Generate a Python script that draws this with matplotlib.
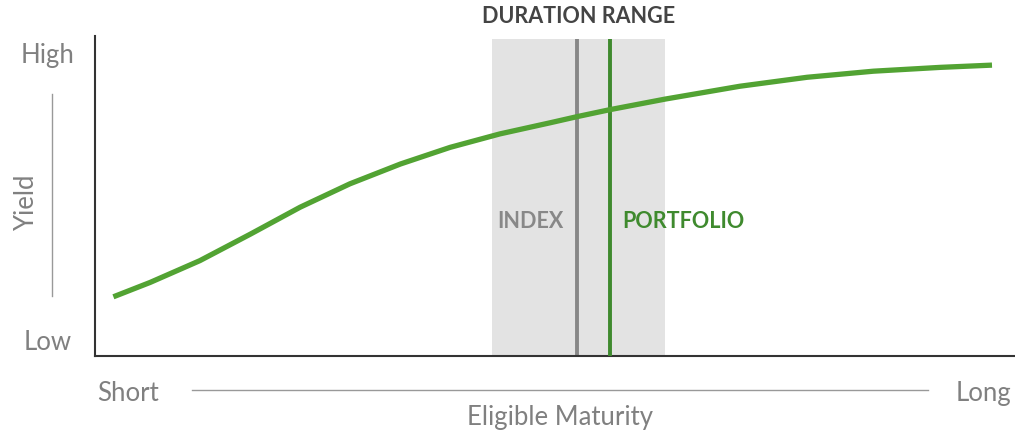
import matplotlib
matplotlib.use('Agg')
import matplotlib.pyplot as plt

plt.rcParams['font.family'] = ['Lato', 'DejaVu Sans']

# yield curve (maturity 0-100, yield 0-100)
maturity = [2.0, 6.0, 11.4, 16.9, 22.3, 27.7, 33.2, 38.6, 44.0, 49.5, 52.4,
            56.0, 62.0, 70.1, 77.4, 84.6, 91.9, 97.5]
yields = [18.5, 23.0, 29.8, 38.1, 46.5, 53.8, 60.0, 65.2, 69.4, 72.9, 74.8,
          77.0, 80.3, 84.3, 87.1, 89.0, 90.2, 90.9]

duration_range = [43.2, 62.0]
index_duration = 52.4
portfolio_duration = 56.0
band_top = 99

y_labels = ["Low", "High"]
x_labels = ["Short", "Long"]

W, H = 1015, 431
fig = plt.figure(figsize=(W / 100, H / 100), dpi=100)
ax = fig.add_axes([95 / W, (H - 357) / H, 920 / W, 320 / H])
ax.set_xlim(0, 100)
ax.set_ylim(0, 100)

ax.axvspan(duration_range[0], duration_range[1], ymax=band_top / 100,
           color='#e3e3e3', lw=0, zorder=0)
ax.plot([index_duration, index_duration], [0, band_top], color='#878787',
        lw=2.8, zorder=2, solid_capstyle='butt')
ax.plot([portfolio_duration, portfolio_duration], [0, band_top],
        color='#3f8a2e', lw=2.8, zorder=3, solid_capstyle='butt')
ax.plot(maturity, yields, color='#52a333', lw=3.8, zorder=4,
        solid_capstyle='butt', solid_joinstyle='round')

ax.text(sum(duration_range) / 2, 106.5, "DURATION RANGE", ha='center',
        va='center', fontsize=15.5, fontweight='bold', color='#444444')
ax.text(index_duration - 1.5, 42.3, "INDEX", ha='right', va='center',
        fontsize=15.5, fontweight='bold', color='#888888')
ax.text(portfolio_duration + 1.3, 42.3, "PORTFOLIO", ha='left', va='center',
        fontsize=15.5, fontweight='bold', color='#3f8a2e')

for s in ['top', 'right']:
    ax.spines[s].set_visible(False)
for s in ['left', 'bottom']:
    ax.spines[s].set_color('#333333')
    ax.spines[s].set_linewidth(1.5)
ax.spines['bottom'].set_bounds(0, 100)
ax.set_xticks([])
ax.set_yticks([])

gray = '#808080'
fs = 18.5
# y axis annotations in figure pixels
fig.text(48 / W, 1 - 56 / H, y_labels[1], ha='center', va='center',
         fontsize=fs, color=gray)
fig.text(48 / W, 1 - 343 / H, y_labels[0], ha='center', va='center',
         fontsize=fs, color=gray)
fig.text(27 / W, 1 - 203 / H, "Yield", ha='center', va='center',
         fontsize=fs, color=gray, rotation=90)
fig.add_artist(plt.Line2D([52 / W, 52 / W], [1 - 95 / H, 1 - 297 / H],
                          color='#999999', lw=1))

# x axis annotations
fig.text(128 / W, 1 - 394 / H, x_labels[0], ha='center', va='center',
         fontsize=fs, color=gray)
fig.text(984 / W, 1 - 394 / H, x_labels[1], ha='center', va='center',
         fontsize=fs, color=gray)
fig.text(560 / W, 1 - 418 / H, "Eligible Maturity", ha='center',
         va='center', fontsize=fs, color=gray)
fig.add_artist(plt.Line2D([192 / W, 928 / W], [1 - 391 / H, 1 - 391 / H],
                          color='#999999', lw=1))

fig.savefig('out.png', dpi=100)
